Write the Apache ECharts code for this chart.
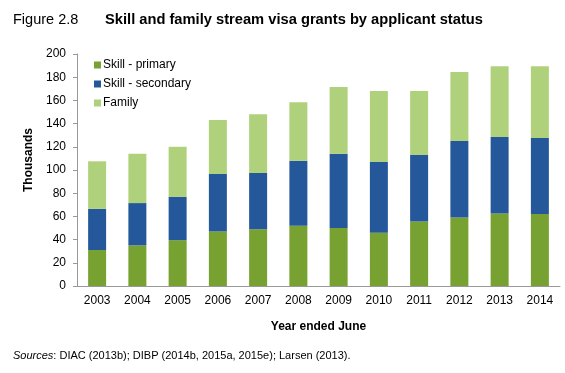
<!DOCTYPE html>
<html><head><meta charset="utf-8">
<script src="https://cdn.jsdelivr.net/npm/echarts@6/dist/echarts.min.js"></script>
<style>html,body{margin:0;padding:0;background:#fff}#c{width:565px;height:373px}</style>
</head><body><div id="c"></div>
<script>
const categories = ['2003','2004','2005','2006','2007','2008','2009','2010','2011','2012','2013','2014'];
const skillPrimary   = [31, 35, 39.5, 47, 49, 52, 50, 46, 55.5, 59, 62.5, 62];
const skillSecondary = [35.5, 36.5, 37.5, 49.5, 48.5, 56, 64, 61, 57.5, 66, 66, 65.5];
const family         = [41, 42.5, 43, 46.5, 50.5, 50.5, 57.5, 61, 55, 59.5, 61, 62];
const yTicks = [0, 20, 40, 60, 80, 100, 120, 140, 160, 180, 200];

const F = 'Liberation Sans, Arial, sans-serif';
const chart = echarts.init(document.getElementById('c'));
chart.setOption({
  animation: false,
  title: [
    {text: 'Figure 2.8', left: 8, top: 7, textStyle: {fontFamily: F, fontSize: 14.5, fontWeight: 'normal', color: '#000'}},
    {text: 'Skill and family stream visa grants by applicant status', left: 100, top: 7, textStyle: {fontFamily: F, fontSize: 14.7, fontWeight: 'bold', color: '#000'}},
    {text: '{i|Sources}: DIAC (2013b); DIBP (2014b, 2015a, 2015e); Larsen (2013).', left: 8, top: 345,
     textStyle: {fontFamily: F, fontSize: 11, fontWeight: 'normal', color: '#000', rich: {i: {fontFamily: F, fontSize: 11, fontStyle: 'italic', color: '#000'}}}}
  ],
  legend: {
    orient: 'vertical', left: 89, top: 54, itemWidth: 7, itemHeight: 7, itemGap: 7, icon: 'rect',
    textStyle: {fontFamily: F, fontSize: 12, color: '#000', padding: [0,0,0,-3]},
    data: ['Skill - primary', 'Skill - secondary', 'Family']
  },
  grid: {left: 77, right: 5, top: 54, bottom: 87, containLabel: false},
  xAxis: {
    type: 'category', data: categories,
    name: 'Year ended June', nameLocation: 'middle', nameGap: 35,
    nameTextStyle: {fontFamily: F, fontSize: 12, fontWeight: 'bold', color: '#000'},
    axisLine: {lineStyle: {color: '#999'}}, axisTick: {show: false},
    axisLabel: {fontFamily: F, fontSize: 12, color: '#000', margin: 9}
  },
  yAxis: {
    type: 'value', min: 0, max: 200, interval: 20,
    name: 'Thousands', nameLocation: 'middle', nameGap: 40,
    nameTextStyle: {fontFamily: F, fontSize: 12, fontWeight: 'bold', color: '#000', padding: [0, 0, 0, 20]},
    axisLine: {show: true, lineStyle: {color: '#999'}}, axisTick: {show: true, length: 4, lineStyle: {color: '#999'}},
    splitLine: {show: false},
    axisLabel: {fontFamily: F, fontSize: 12, color: '#000', margin: 11,
      formatter: v => yTicks.includes(v) ? String(v) : ''}
  },
  series: [
    {name: 'Skill - primary', type: 'bar', stack: 's', data: skillPrimary, barWidth: 18, itemStyle: {color: '#77a131'}},
    {name: 'Skill - secondary', type: 'bar', stack: 's', data: skillSecondary, barWidth: 18, itemStyle: {color: '#24589b'}},
    {name: 'Family', type: 'bar', stack: 's', data: family, barWidth: 18, itemStyle: {color: '#b0d17b'}}
  ]
});
</script></body></html>
